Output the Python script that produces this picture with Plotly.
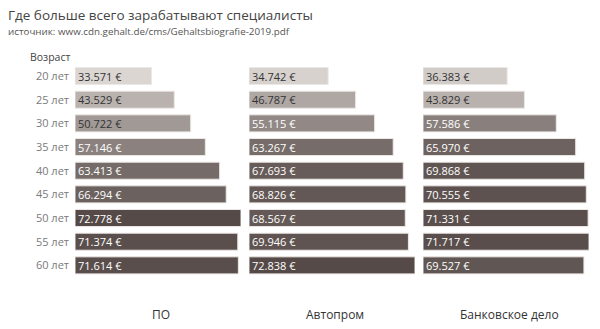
import plotly.graph_objects as go

# Зарплаты по возрасту и отраслям (евро в год)
ages = ["20 лет", "25 лет", "30 лет", "35 лет", "40 лет", "45 лет", "50 лет", "55 лет", "60 лет"]
industries = ["ПО", "Автопром", "Банковское дело"]
salary_po = [33571, 43529, 50722, 57146, 63413, 66294, 72778, 71374, 71614]
salary_auto = [34742, 46787, 55115, 63267, 67693, 68826, 68567, 69946, 72838]
salary_bank = [36383, 43829, 57586, 65970, 69868, 70555, 71331, 71717, 69527]

series = [salary_po, salary_auto, salary_bank]
all_vals = salary_po + salary_auto + salary_bank
cmin, cmax = min(all_vals), max(all_vals)

W, H = 600, 329
panels_px = [(75, 241), (249, 415), (423, 589)]
row_top, row_bottom = 64.2, 277.2

fig = go.Figure()
for i, vals in enumerate(series):
    ax = "" if i == 0 else str(i + 1)
    text_colors = ["#333333" if v < 52000 else "#ffffff" for v in vals]
    fig.add_trace(go.Bar(
        x=vals, y=ages, orientation="h",
        xaxis="x" + ax, yaxis="y",
        marker=dict(color=vals, cmin=cmin, cmax=cmax,
                    colorscale=[[0, "#dcd6d3"], [1, "#554a47"]],
                    line=dict(color="#ece8e6", width=1)),
        texttemplate="%{x:,.0f} €", textposition="inside",
        insidetextanchor="start", constraintext="none",
        textfont=dict(size=11, color=text_colors, family="Open Sans"),
        hoverinfo="skip", showlegend=False,
    ))


def label(x_px, y_px, text, size, color, xanchor="left"):
    fig.add_annotation(x=x_px / W, y=1 - y_px / H, xref="paper", yref="paper",
                       xanchor=xanchor, yanchor="middle", text=text, showarrow=False,
                       font=dict(size=size, color=color, family="Open Sans"))


for i, (x0, x1) in enumerate(panels_px):
    key = "xaxis" if i == 0 else f"xaxis{i + 1}"
    fig.layout[key] = dict(domain=[x0 / W, x1 / W], range=[0, max(series[i])],
                           visible=False, anchor="y", fixedrange=True)
    label((x0 + x1) / 2 + 3, 314, industries[i], 12, "#333333", xanchor="center")

fig.update_layout(
    width=W, height=H,
    margin=dict(l=0, r=0, t=0, b=0),
    paper_bgcolor="white", plot_bgcolor="white",
    separators=",.",
    bargap=0.28,
    yaxis=dict(domain=[1 - row_bottom / H, 1 - row_top / H], autorange="reversed",
               categoryorder="array", categoryarray=ages,
               showgrid=False, zeroline=False, showline=False, ticks="",
               ticklabelstandoff=5,
               tickfont=dict(size=11, color="#7a7a7a", family="Open Sans"),
               anchor="x", fixedrange=True),
    font=dict(family="Open Sans"),
)

label(6, 15, "Где больше всего зарабатывают специалисты", 13.5, "#444444")
label(6, 31, "источник: www.cdn.gehalt.de/cms/Gehaltsbiografie-2019.pdf", 9.8, "#555555")
label(28, 57, "Возраст", 10.5, "#444444")

fig.write_html("out.html")
